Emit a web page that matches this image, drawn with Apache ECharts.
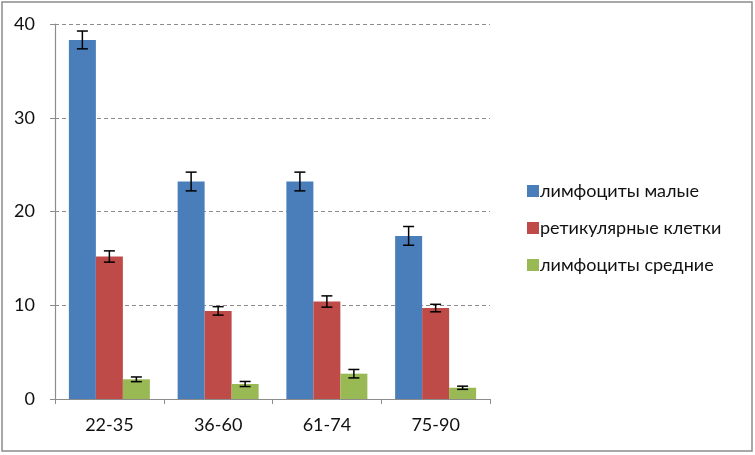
<!DOCTYPE html>
<html>
<head>
<meta charset="utf-8">
<script src="https://cdn.jsdelivr.net/npm/echarts@6/dist/echarts.min.js"></script>
<style>
  html, body { margin: 0; padding: 0; background: #fff; }
  #mainChart { width: 755px; height: 455px; }
</style>
</head>
<body>
<div id="mainChart"></div>
<script>
// data
var categories = ["22-35", "36-60", "61-74", "75-90"];
var seriesNames = ["лимфоциты малые", "ретикулярные клетки", "лимфоциты средние"];
var smallLymph = [38.3, 23.2, 23.2, 17.4];
var smallLymphErr = [0.95, 1.0, 1.0, 1.0];
var reticular = [15.2, 9.4, 10.4, 9.7];
var reticularErr = [0.6, 0.45, 0.6, 0.4];
var midLymph = [2.1, 1.6, 2.7, 1.2];
var midLymphErr = [0.25, 0.27, 0.45, 0.17];
var yTicks = [0, 10, 20, 30, 40];

var colors = ["#4a7ebb", "#be4b48", "#98b954"];
var values = [smallLymph, reticular, midLymph];
var errs = [smallLymphErr, reticularErr, midLymphErr];
var barW = 27;

var chart = echarts.init(document.getElementById("mainChart"));

function errSeries(idx) {
  var d = values[idx].map(function (v, i) {
    return [i, v - errs[idx][i], v + errs[idx][i]];
  });
  return {
    type: "custom",
    name: seriesNames[idx] + " err",
    z: 10,
    silent: true,
    data: d,
    renderItem: function (params, api) {
      var lo = api.coord([api.value(0), api.value(1)]);
      var hi = api.coord([api.value(0), api.value(2)]);
      var x = lo[0] + (idx - 1) * barW;
      var cap = 5.5;
      var st = { stroke: "#000", lineWidth: 1.5 };
      return {
        type: "group",
        children: [
          { type: "line", shape: { x1: x, y1: lo[1], x2: x, y2: hi[1] }, style: st },
          { type: "line", shape: { x1: x - cap, y1: lo[1], x2: x + cap, y2: lo[1] }, style: st },
          { type: "line", shape: { x1: x - cap, y1: hi[1], x2: x + cap, y2: hi[1] }, style: st }
        ]
      };
    }
  };
}

var series = [];
for (var k = 0; k < 3; k++) {
  series.push({
    type: "bar",
    name: seriesNames[k],
    data: values[k],
    barWidth: barW,
    barGap: "0%",
    itemStyle: { color: colors[k] }
  });
}
for (var j = 0; j < 3; j++) series.push(errSeries(j));

var option = {
  animation: false,
  textStyle: { fontFamily: "Lato" },
  graphic: [{
    type: "rect",
    shape: { x: 2, y: 2, width: 750, height: 449 },
    style: { fill: "none", stroke: "#8c8c8c", lineWidth: 1.5 },
    z: -1
  }],
  grid: { left: 55, right: 265, top: 24, bottom: 56 },
  legend: {
    data: seriesNames,
    orient: "vertical",
    left: 522,
    top: 177,
    itemWidth: 12,
    itemHeight: 12,
    itemGap: 19,
    icon: "rect",
    textStyle: { fontSize: 18, color: "#111", fontFamily: "Lato", padding: [0, 0, 0, -4] }
  },
  xAxis: {
    type: "category",
    data: categories,
    axisLine: { lineStyle: { color: "#8c8c8c", width: 1.2 } },
    axisTick: { show: true, length: 5, lineStyle: { color: "#8c8c8c" } },
    axisLabel: { fontSize: 18, color: "#111", margin: 17 }
  },
  yAxis: {
    type: "value",
    min: yTicks[0],
    max: yTicks[yTicks.length - 1],
    interval: 10,
    axisLine: { show: true, lineStyle: { color: "#8c8c8c", width: 1.2 } },
    axisTick: { show: true, length: 5, lineStyle: { color: "#8c8c8c" } },
    axisLabel: { fontSize: 18, color: "#111", margin: 20 },
    splitLine: { lineStyle: { color: "#8c8c8c", type: [4, 3] } }
  },
  series: series
};

chart.setOption(option);
</script>
</body>
</html>
